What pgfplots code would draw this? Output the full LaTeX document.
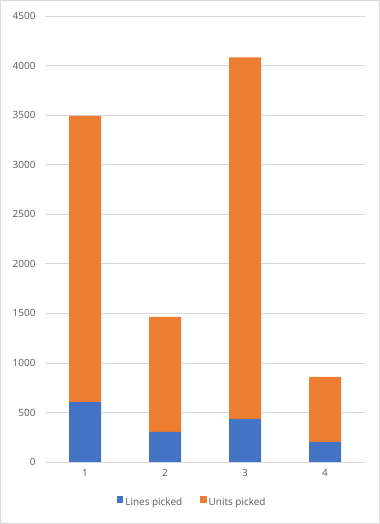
\documentclass[border=0pt]{standalone}
\usepackage{pgfplots}
\pgfplotsset{compat=1.18}
\usepackage{fontspec}
\setmainfont{Open Sans}
\definecolor{cblue}{HTML}{4472C4}
\definecolor{corange}{HTML}{ED7D31}
\definecolor{tgray}{HTML}{595959}
\definecolor{ggray}{HTML}{D9D9D9}
\begin{document}
\begin{tikzpicture}
\draw[ggray, line width=0.8bp] (-44.6bp,-61.6bp) rectangle (334.6bp,461.6bp);
\begin{axis}[
  at={(0,0)}, anchor=south west,
  scale only axis, width=320bp, height=446bp,
  ybar stacked, bar width=0.4,
  xmin=0.5, xmax=4.5, ymin=0, ymax=4500,
  xtick={1,2,3,4}, ytick={0,500,...,4500},
  axis line style={draw=none},
  axis x line*=bottom,
  major tick length=0pt,
  ymajorgrids, grid style={ggray, line width=0.7bp},
  tick label style={font=\fontsize{10}{12}\selectfont, text=tgray},
  /pgf/number format/assume math mode=true,
  /pgf/number format/1000 sep={},
  yticklabel style={xshift=-6bp},
  xticklabel style={yshift=-4bp},
  legend style={at={(0.46,-0.09)}, anchor=center, draw=none, legend columns=2,
    font=\fontsize{10}{12}\selectfont, text=tgray,
    /tikz/every even column/.append style={column sep=16bp}},
  legend image code/.code={\fill[#1] (0,-0.05em) rectangle (0.65em,0.6em);},
]
\draw[ggray, line width=0.7bp] (axis cs:0.5,0) -- (axis cs:4.5,0);
\addplot[fill=cblue, draw=none] coordinates {(1,605) (2,303) (3,435) (4,202)};
\addplot[fill=corange, draw=none] coordinates {(1,2887) (2,1160) (3,3647) (4,658)};
\legend{Lines picked, Units picked}
\end{axis}
\end{tikzpicture}
\end{document}
